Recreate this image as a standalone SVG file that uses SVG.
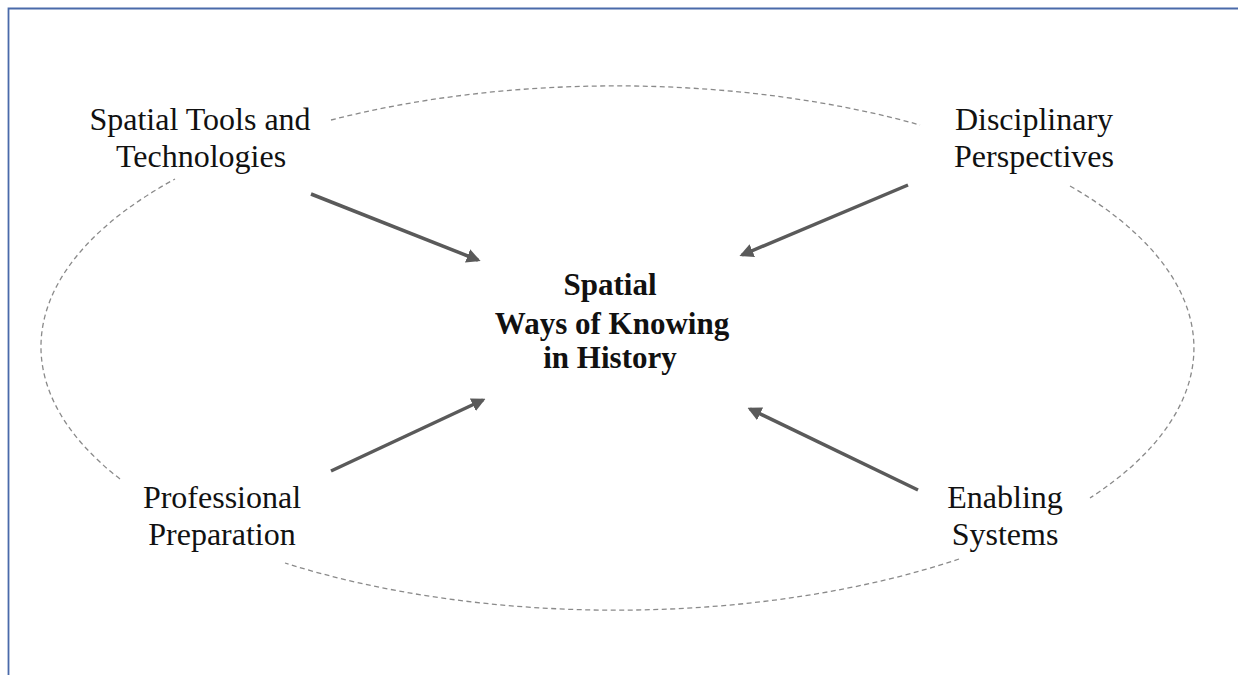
<svg xmlns="http://www.w3.org/2000/svg" width="1238" height="675" viewBox="0 0 1238 675">
<defs>
<style>
.lbl{font-family:"Liberation Serif","Times New Roman",serif;font-size:32px;fill:#111;text-anchor:middle}
.ctr{font-family:"Liberation Serif","Times New Roman",serif;font-size:31px;font-weight:bold;fill:#111;text-anchor:middle}
.ring{fill:none;stroke:#8a8a8a;stroke-width:1.3;stroke-dasharray:5 3.5}
.arr{stroke:#5a5a5a;stroke-width:3.5;fill:none;marker-end:url(#ah)}
</style>
<marker id="ah" viewBox="0 0 10 10" refX="8" refY="5" markerWidth="4" markerHeight="4" orient="auto" markerUnits="strokeWidth">
<path d="M0,0 L10,5 L0,10 z" fill="#5a5a5a"/>
</marker>
</defs>
<rect width="1238" height="675" fill="#fff"/>
<path d="M8.5,675 V8.5 H1238" fill="none" stroke="#4a6aaa" stroke-width="1.8"/>
<g id="ring">
<path class="ring" d="M331,120 A578,262 0 0 1 920,125"/>
<path class="ring" d="M1070,186 A578,262 0 0 1 1090,498"/>
<path class="ring" d="M959,559 A578,262 0 0 1 285,563"/>
<path class="ring" d="M120,479 A578,262 0 0 1 175,179"/>
</g>
<g id="connectors">
<line class="arr" x1="311" y1="194" x2="478" y2="260"/>
<line class="arr" x1="908" y1="185" x2="742" y2="255"/>
<line class="arr" x1="331" y1="471" x2="483" y2="400"/>
<line class="arr" x1="918" y1="490" x2="750" y2="409"/>
</g>
<g id="node-center">
<text class="ctr" x="610" y="295">Spatial</text>
<text class="ctr" x="612" y="334">Ways of Knowing</text>
<text class="ctr" x="610" y="368">in History</text>
</g>
<g id="node-tools">
<text class="lbl" x="200" y="130">Spatial Tools and</text>
<text class="lbl" x="201" y="167">Technologies</text>
</g>
<g id="node-disciplinary">
<text class="lbl" x="1034" y="130">Disciplinary</text>
<text class="lbl" x="1034" y="167">Perspectives</text>
</g>
<g id="node-professional">
<text class="lbl" x="222" y="508">Professional</text>
<text class="lbl" x="222" y="545">Preparation</text>
</g>
<g id="node-enabling">
<text class="lbl" x="1005" y="508">Enabling</text>
<text class="lbl" x="1005" y="545">Systems</text>
</g>
</svg>
